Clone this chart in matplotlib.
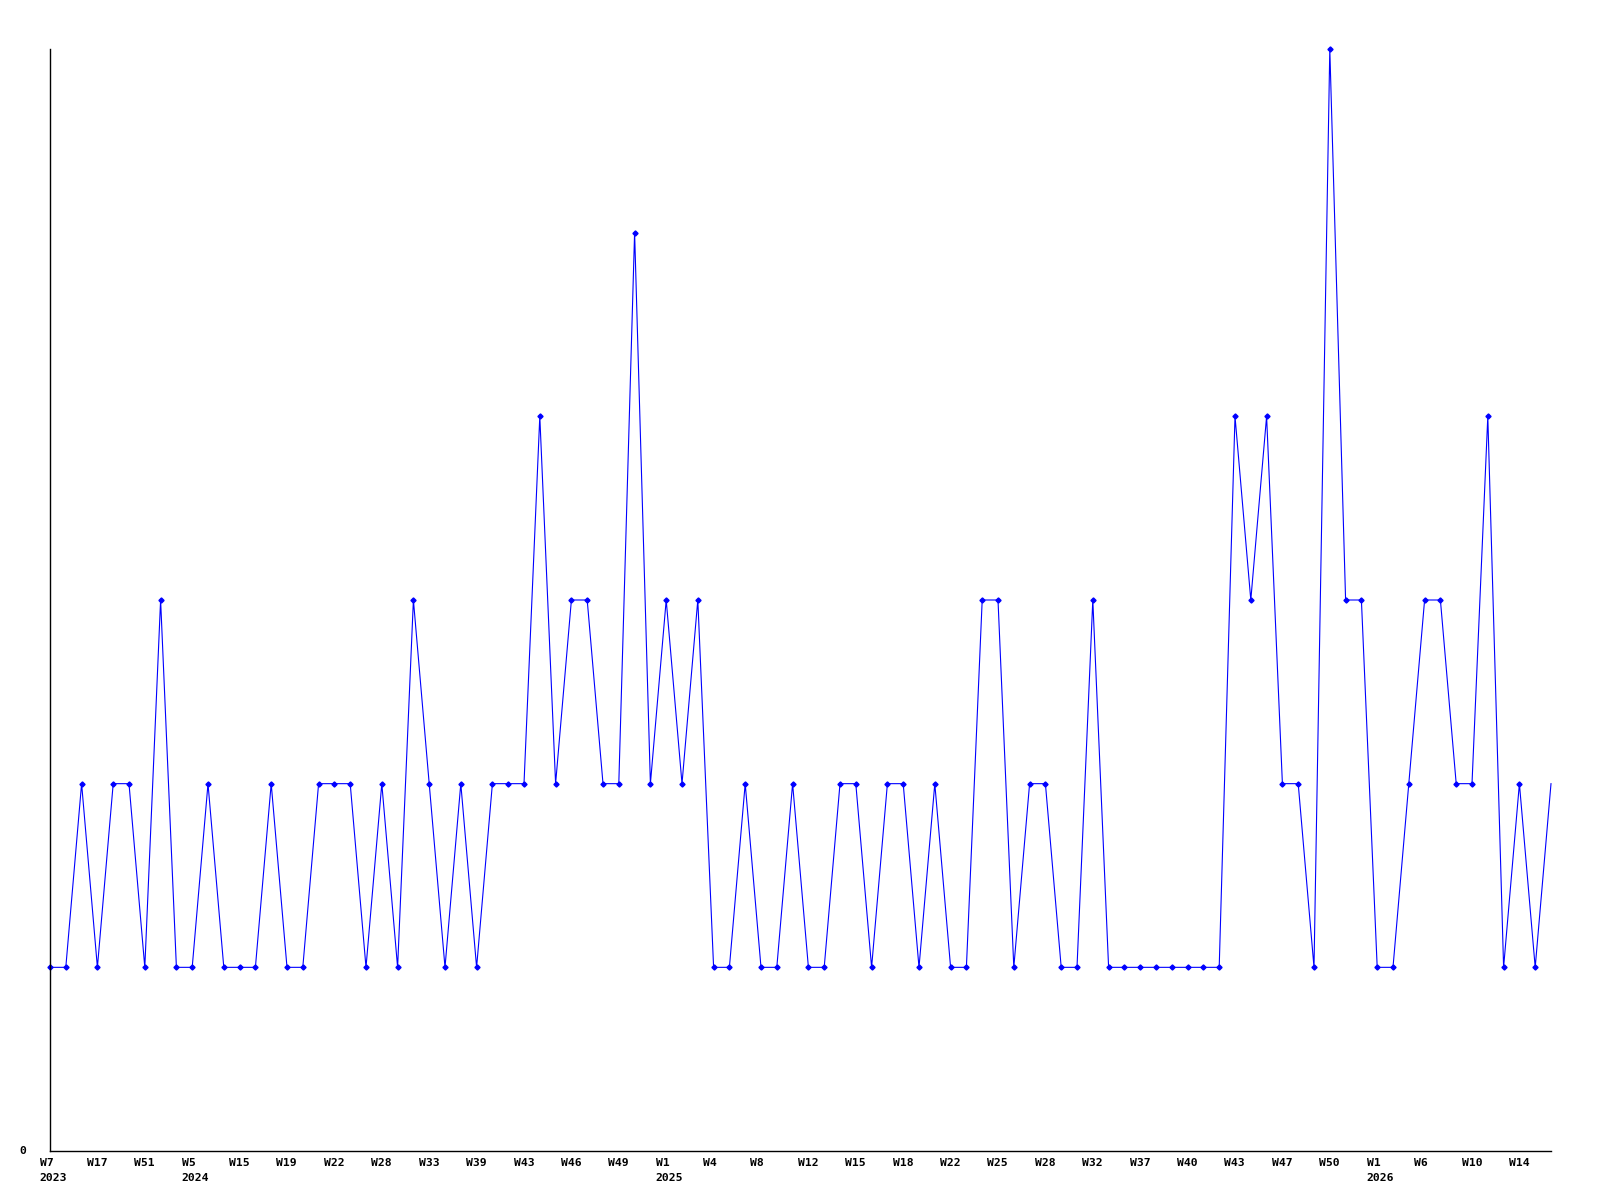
import numpy as np
import matplotlib.pyplot as plt

# weekly counts, one entry per plotted week
values = [1, 1, 2, 1, 2, 2, 1, 3, 1, 1, 2, 1, 1, 1, 2, 1, 1, 2, 2, 2,
          1, 2, 1, 3, 2, 1, 2, 1, 2, 2, 2, 4, 2, 3, 3, 2, 2, 5, 2, 3,
          2, 3, 1, 1, 2, 1, 1, 2, 1, 1, 2, 2, 1, 2, 2, 1, 2, 1, 1, 3,
          3, 1, 2, 2, 1, 1, 3, 1, 1, 1, 1, 1, 1, 1, 1, 4, 3, 4, 2, 2,
          1, 6, 3, 3, 1, 1, 2, 3, 3, 2, 2, 4, 1, 2, 1, 2]

week_labels = ['W7', 'W17', 'W51', 'W5', 'W15', 'W19', 'W22', 'W28', 'W33', 'W39',
               'W43', 'W46', 'W49', 'W1', 'W4', 'W8', 'W12', 'W15', 'W18', 'W22',
               'W25', 'W28', 'W32', 'W37', 'W40', 'W43', 'W47', 'W50', 'W1', 'W6',
               'W10', 'W14']
year_labels = {0: '2023', 3: '2024', 13: '2025', 28: '2026'}
label_step = 3

x = np.arange(len(values))

fig = plt.figure(figsize=(16, 12), dpi=100)
ax = fig.add_axes([50 / 1600, 49 / 1200, 1501 / 1600, 1102 / 1200])

ax.plot(x, values, color='#0000ff', linewidth=0.8, marker='D', markersize=2.6,
        markevery=list(range(len(values) - 1)), clip_on=False)

ax.set_xlim(0, len(values) - 1)
ax.set_ylim(0, max(values))

for s in ['top', 'right']:
    ax.spines[s].set_visible(False)
for s in ['left', 'bottom']:
    ax.spines[s].set_linewidth(1.0)
    ax.spines[s].set_color('black')
ax.set_xticks([])
ax.set_yticks([])

font = dict(family='DejaVu Sans Mono', fontweight='bold', fontsize=8.2, color='black')

for i, lab in enumerate(week_labels):
    xi = x[i * label_step]
    ax.annotate(lab, xy=(xi, 0), xycoords=('data', 'axes fraction'),
                xytext=(-10.5, -12), textcoords='offset pixels',
                ha='left', va='center', annotation_clip=False, **font)
    if i in year_labels:
        ax.annotate(year_labels[i], xy=(xi, 0), xycoords=('data', 'axes fraction'),
                    xytext=(-10.5, -27), textcoords='offset pixels',
                    ha='left', va='center', annotation_clip=False, **font)

ax.annotate('0', xy=(0, 0), xycoords='axes fraction', xytext=(-27, 0),
            textcoords='offset pixels', ha='center', va='center',
            annotation_clip=False, **font)

fig.savefig('out.png', dpi=100)
